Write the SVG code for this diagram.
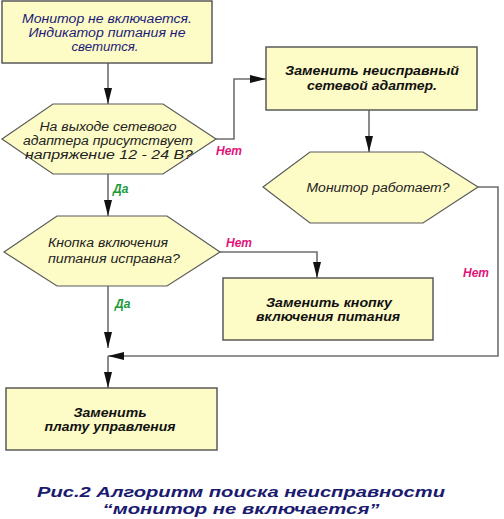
<svg xmlns="http://www.w3.org/2000/svg" width="504" height="519" viewBox="0 0 504 519">
<defs>
<marker id="ah" viewBox="0 0 16 8" refX="16" refY="4" markerWidth="16" markerHeight="8" markerUnits="userSpaceOnUse" orient="auto">
<path d="M0,0 L16,4 L0,8 Z" fill="#111"/>
</marker>
</defs>
<style>
.box{fill:#fdfbc6;stroke:#5a5a5a;stroke-width:1.5}
.hex{fill:#fdfbc6;stroke:#5a5a5a;stroke-width:1.2}
.con{fill:none;stroke:#6e6e6e;stroke-width:1.6}
.t{font-family:"Liberation Sans",Arial,sans-serif;font-style:italic;font-size:12.5px;text-anchor:middle}
.nv{fill:#1c1c78}
.dk{fill:#222}
.b{font-weight:bold;fill:#111}
.no{font-family:"Liberation Sans",Arial,sans-serif;font-style:italic;font-weight:bold;font-size:12px;fill:#e0157a}
.yes{font-family:"Liberation Sans",Arial,sans-serif;font-style:italic;font-weight:bold;font-size:12px;fill:#1a9a3a}
.cap{font-family:"Liberation Sans",Arial,sans-serif;font-style:italic;font-weight:bold;font-size:15px;fill:#1a1a70;text-anchor:middle}
</style>
<rect width="504" height="519" fill="#ffffff"/>

<g id="connectors">
<path class="con" d="M108,63 L108,104" marker-end="url(#ah)"/>
<path class="con" d="M216,139 L234,139 L234,79 L266,79" marker-end="url(#ah)"/>
<path class="con" d="M369,110 L369,152" marker-end="url(#ah)"/>
<path class="con" d="M108,174 L108,216" marker-end="url(#ah)"/>
<path class="con" d="M220,252 L317,252 L317,278" marker-end="url(#ah)"/>
<path class="con" d="M108,286 L108,348" marker-end="url(#ah)"/>
<path class="con" d="M478,187 L498,187 L498,356 L108,356" stroke="#333" marker-end="url(#ah)"/>
<path class="con" d="M108,356 L108,388" marker-end="url(#ah)"/>
<text class="no" x="216" y="155">Нет</text>
<text class="yes" x="113" y="193">Да</text>
<text class="no" x="226" y="247">Нет</text>
<text class="yes" x="115" y="308">Да</text>
<text class="no" x="463" y="277">Нет</text>
</g>

<g id="n1">
<rect class="box" x="2" y="1" width="210" height="62"/>
<text class="t nv" x="107" y="23" textLength="170" lengthAdjust="spacingAndGlyphs">Монитор не включается.</text>
<text class="t nv" x="107" y="37" textLength="157" lengthAdjust="spacingAndGlyphs">Индикатор питания не</text>
<text class="t nv" x="105" y="51" textLength="67" lengthAdjust="spacingAndGlyphs">светится.</text>
</g>

<g id="n2">
<polygon class="hex" points="2,139 53,104 163,104 216,139 163,174 53,174"/>
<text class="t dk" x="108" y="131" textLength="137" lengthAdjust="spacingAndGlyphs">На выходе сетевого</text>
<text class="t dk" x="108" y="145" textLength="170" lengthAdjust="spacingAndGlyphs">адаптера присутствует</text>
<text class="t dk" x="109" y="159" textLength="168" lengthAdjust="spacingAndGlyphs">напряжение 12 - 24 В?</text>
</g>

<g id="n3">
<rect class="box" x="266" y="47" width="211" height="63"/>
<text class="t b" x="372" y="75" textLength="174" lengthAdjust="spacingAndGlyphs">Заменить неисправный</text>
<text class="t b" x="372" y="90" textLength="130" lengthAdjust="spacingAndGlyphs">сетевой адаптер.</text>
</g>

<g id="n4">
<polygon class="hex" points="263,187 310,152 423,152 478,187 423,223 310,223"/>
<text class="t dk" x="378" y="192" textLength="143" lengthAdjust="spacingAndGlyphs">Монитор работает?</text>
</g>

<g id="n5">
<polygon class="hex" points="4,252 57,216 167,216 220,252 167,286 57,286"/>
<text class="t dk" x="108" y="247" textLength="120" lengthAdjust="spacingAndGlyphs">Кнопка включения</text>
<text class="t dk" x="114" y="263" textLength="132" lengthAdjust="spacingAndGlyphs">питания исправна?</text>
</g>

<g id="n6">
<rect class="box" x="223" y="278" width="210" height="62"/>
<text class="t b" x="329" y="307" textLength="126" lengthAdjust="spacingAndGlyphs">Заменить кнопку</text>
<text class="t b" x="328" y="321" textLength="144" lengthAdjust="spacingAndGlyphs">включения питания</text>
</g>

<g id="n7">
<rect class="box" x="6" y="388" width="211" height="62"/>
<text class="t b" x="110" y="417" textLength="73" lengthAdjust="spacingAndGlyphs">Заменить</text>
<text class="t b" x="110" y="431" textLength="131" lengthAdjust="spacingAndGlyphs">плату управления</text>
</g>

<g id="caption">
<text class="cap" x="241" y="497" textLength="408" lengthAdjust="spacingAndGlyphs">Рис.2 Алгоритм поиска неисправности</text>
<text class="cap" x="241" y="514" textLength="277" lengthAdjust="spacingAndGlyphs">“монитор не включается”</text>
</g>
</svg>
